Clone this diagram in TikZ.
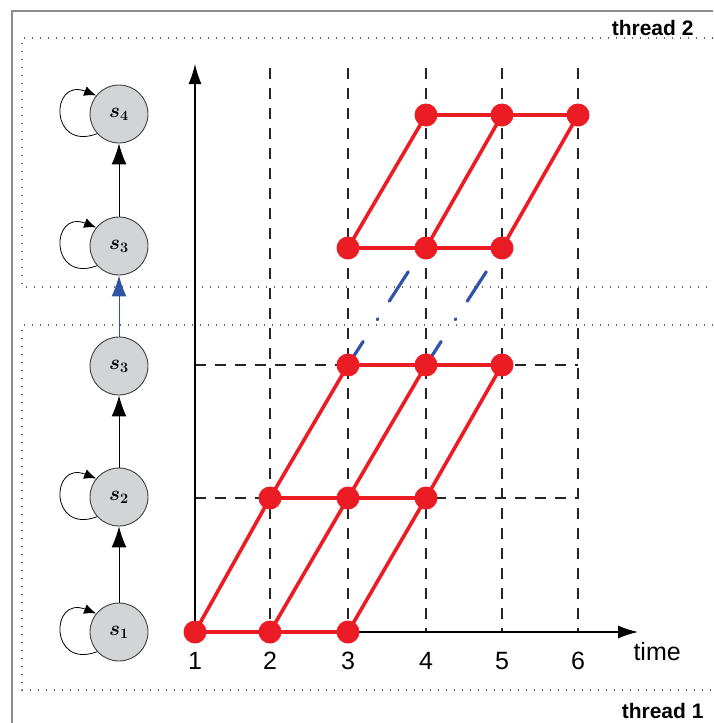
\documentclass[tikz,border=0pt]{standalone}
\usepackage{fontspec}
\setmainfont{Liberation Sans}
\usetikzlibrary{arrows.meta}
\definecolor{redc}{RGB}{236,28,36}
\definecolor{bluec}{RGB}{46,84,166}
\definecolor{nodegray}{RGB}{211,212,214}
\definecolor{framegray}{RGB}{140,140,140}
\begin{document}
\begin{tikzpicture}[x=1pt,y=-1pt,
  state/.style={circle,draw=black!75,fill=nodegray,line width=0.9pt,minimum size=58pt,inner sep=0pt,font=\fontsize{22}{24}\selectfont\boldmath},
  rdot/.style={circle,fill=redc,draw=none,minimum size=23pt,inner sep=0pt},
  redline/.style={draw=redc,line width=3.6pt},
  griddash/.style={draw=black!85,line width=1.1pt,dash pattern=on 11pt off 9pt},
  dotbox/.style={draw=black!60,line width=1.2pt,dash pattern=on 1.2pt off 6.8pt},
  bluedash/.style={draw=bluec,line width=3.2pt,line cap=round,dash pattern=on 28pt off 26pt on 1pt off 21pt on 35pt off 200pt},
  axis/.style={line width=1.2pt,-{Latex[length=20pt,width=13pt]}},
  chain/.style={line width=1pt,-{Latex[length=21pt,width=15pt]}},
  selfloop/.style={line width=0.8pt,-{Latex[length=12pt,width=10pt]}},
  ticklab/.style={font=\fontsize{25}{27}\selectfont},
  threadlab/.style={font=\bfseries\fontsize{21}{23}\selectfont,anchor=east}
]
\useasboundingbox (0,0) rectangle (713,723);
% outer frame
\draw[framegray,line width=1.6pt] (12,723) -- (12,11) -- (713,11);
% thread boxes
\draw[dotbox] (713,38) -- (22,38) -- (22,287) -- (713,287);
\draw[dotbox] (713,325) -- (22,325) -- (22,690) -- (713,690);
\node[threadlab] (th2) at (697,28) {thread 2};
\node[threadlab] (th1) at (707,711) {thread 1};

% grid
\foreach \x in {270,348,426,502,578} {
  \coordinate (gt\x) at (\x,68);
  \coordinate (gb\x) at (\x,632);
  \draw[griddash] (gt\x) -- (gb\x);
}
\coordinate (hl1) at (195,498); \coordinate (hr1) at (578,498);
\coordinate (hl2) at (195,365); \coordinate (hr2) at (578,365);
\draw[griddash] (hl1) -- (hr1);
\draw[griddash] (hl2) -- (hr2);

% axes
\coordinate (O) at (195,632);
\coordinate (ytop) at (195,64);
\coordinate (xend) at (638,632);
\draw[axis] (O) -- (ytop);
\draw[axis] (O) -- (xend);

% tick labels
\foreach \x/\l in {195/1,270/2,348/3,426/4,502/5,578/6}
  \node[ticklab] (tk\l) at (\x,661) {\l};
\node[ticklab,anchor=west] (timelab) at (630,652) {time};

% red nodes
\foreach \n/\x/\y in {a1/195/632,a2/270/632,a3/348/632,
                      b1/270/498,b2/348/498,b3/426/498,
                      c1/348/365,c2/426/365,c3/502/365,
                      d1/348/248,d2/426/248,d3/502/248,
                      e1/426/115,e2/502/115,e3/578/115}
  \coordinate (\n) at (\x,\y);

% blue dashed links
\coordinate (bl1) at (412,266);
\coordinate (bl2) at (490,266);
\draw[bluedash] (c1) -- (bl1);
\draw[bluedash] (c2) -- (bl2);

\draw[redline] (a1) -- (a3);
\draw[redline] (b1) -- (b3);
\draw[redline] (c1) -- (c3);
\draw[redline] (d1) -- (d3);
\draw[redline] (e1) -- (e3);
\draw[redline] (a1) -- (b1) -- (c1);
\draw[redline] (a2) -- (b2) -- (c2);
\draw[redline] (a3) -- (b3) -- (c3);
\draw[redline] (d1) -- (e1);
\draw[redline] (d2) -- (e2);
\draw[redline] (d3) -- (e3);
\foreach \n in {a1,a2,a3,b1,b2,b3,c1,c2,c3,d1,d2,d3,e1,e2,e3}
  \node[rdot] (r\n) at (\n) {};

% state chain
\node[state] (s1) at (119,632) {$s_1$};
\node[state] (s2) at (119,497) {$s_2$};
\node[state] (s3) at (119,366) {$s_3$};
\node[state] (s4) at (119,246) {$s_3$};
\node[state] (s5) at (119,114) {$s_4$};
\draw[chain] (s1) -- (s2);
\draw[chain] (s2) -- (s3);
\draw[chain,draw=bluec,fill=bluec] (s3) -- (s4);
\draw[chain] (s4) -- (s5);
\foreach \s in {s1,s2,s4,s5}
  \draw[selfloop] (\s.222) .. controls +(-48,18) and +(-46,-18) .. (\s.141);
\end{tikzpicture}
\end{document}
